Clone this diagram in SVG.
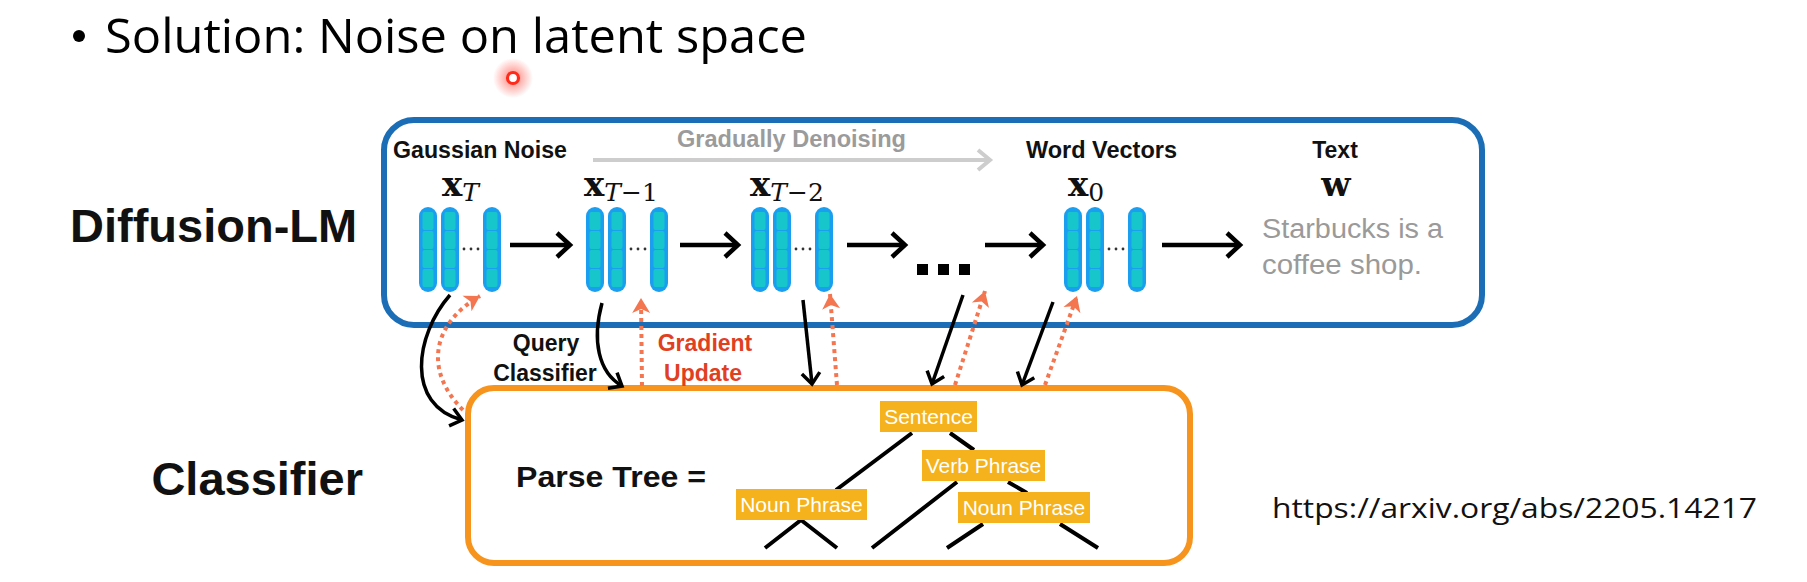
<svg xmlns="http://www.w3.org/2000/svg" xmlns:xlink="http://www.w3.org/1999/xlink" width="1807" height="582" viewBox="0 0 1807 582">
<defs>
<style>
.lbl{font-family:"Liberation Sans",Arial,sans-serif;font-weight:bold;font-size:23px;fill:#111}
.big{font-family:"Liberation Sans",Arial,sans-serif;font-weight:bold;font-size:47px;fill:#111}
.math{font-family:"DejaVu Serif",serif;font-weight:bold;font-size:34px;fill:#111}
.sub{font-family:"DejaVu Serif",serif;font-weight:normal;font-style:italic;font-size:25px}
.subn{font-family:"DejaVu Serif",serif;font-weight:normal;font-style:normal;font-size:25px}
.gray{font-family:"Liberation Sans",Arial,sans-serif;font-size:27px;fill:#9a9a9a}
.tag{fill:#f5b21c}
.tagt{font-family:"Liberation Sans",Arial,sans-serif;font-size:21px;fill:#fff;text-anchor:middle}
.tree{stroke:#000;stroke-width:4;fill:none}
.conn{stroke:#000;stroke-width:3.5;fill:none}
.dot{stroke:#f47650;stroke-width:4;fill:none;stroke-dasharray:4 4}
.flow{stroke:#000;stroke-width:4.5;fill:none}
</style>
<marker id="hBig" markerUnits="userSpaceOnUse" viewBox="-20 -20 40 40" markerWidth="40" markerHeight="40" refX="0" refY="0" orient="auto" overflow="visible">
<path d="M-13,-12 L0,0 L-13,12" fill="none" stroke="#000" stroke-width="4.5"/>
</marker>
<marker id="hGray" markerUnits="userSpaceOnUse" viewBox="-20 -20 40 40" markerWidth="40" markerHeight="40" refX="0" refY="0" orient="auto" overflow="visible">
<path d="M-12,-10 L0,0 L-12,10" fill="none" stroke="#cdcdcd" stroke-width="4"/>
</marker>
<marker id="hBlk" markerUnits="userSpaceOnUse" viewBox="-20 -20 40 40" markerWidth="40" markerHeight="40" refX="0" refY="0" orient="auto" overflow="visible">
<path d="M-11,-9 L0,0 L-11,9" fill="none" stroke="#000" stroke-width="3.5"/>
</marker>
<marker id="hOr" markerUnits="userSpaceOnUse" viewBox="-20 -20 40 40" markerWidth="40" markerHeight="40" refX="0" refY="0" orient="auto" overflow="visible">
<path d="M-15,-9 L0,0 L-15,9 L-11,0 Z" fill="#f47650"/>
</marker>
<radialGradient id="glow">
<stop offset="0" stop-color="#ff2a1a" stop-opacity="0.6"/>
<stop offset="1" stop-color="#ff2a1a" stop-opacity="0"/>
</radialGradient>
<g id="col">
<rect x="0" y="0" width="18" height="85" rx="9" fill="#1a9ff0"/>
<rect x="3.5" y="5" width="11" height="18" rx="2" fill="#17c6cb"/>
<rect x="3.5" y="24" width="11" height="18" rx="2" fill="#17c6cb"/>
<rect x="3.5" y="43" width="11" height="18" rx="2" fill="#17c6cb"/>
<rect x="3.5" y="62" width="11" height="18" rx="2" fill="#17c6cb"/>
</g>
<g id="stack">
<use xlink:href="#col" x="0"/>
<use xlink:href="#col" x="22"/>
<use xlink:href="#col" x="64"/>
<circle cx="45" cy="42" r="1.4" fill="#333"/>
<circle cx="52" cy="42" r="1.4" fill="#333"/>
<circle cx="59" cy="42" r="1.4" fill="#333"/>
</g>
</defs>
<rect width="1807" height="582" fill="#fff"/>

<g id="title">
<circle cx="79" cy="36" r="6" fill="#000"/>
<text x="105" y="53" font-family="'Open Sans','Noto Sans',sans-serif" font-size="48" fill="#000" textLength="702" lengthAdjust="spacingAndGlyphs">Solution: Noise on latent space</text>
</g>
<g id="pointer">
<circle cx="513" cy="78" r="20" fill="url(#glow)"/>
<circle cx="513" cy="78" r="5.5" fill="#fff" stroke="#ff2a1a" stroke-width="3.2"/>
</g>

<text class="big" x="70" y="242">Diffusion-LM</text>
<text class="big" x="363" y="495" text-anchor="end">Classifier</text>

<g id="diffusion-lm">
<rect x="384" y="120" width="1098" height="205" rx="30" fill="none" stroke="#1b6eb6" stroke-width="6"/>
<text class="lbl" x="393" y="158" textLength="174" lengthAdjust="spacingAndGlyphs">Gaussian Noise</text>
<text class="lbl" x="677" y="147" style="fill:#9b9b9b" textLength="229" lengthAdjust="spacingAndGlyphs">Gradually Denoising</text>
<text class="lbl" x="1026" y="158" textLength="151" lengthAdjust="spacingAndGlyphs">Word Vectors</text>
<text class="lbl" x="1335" y="158" text-anchor="middle">Text</text>
<path d="M593,160 L990,160" stroke="#cdcdcd" stroke-width="4" fill="none" marker-end="url(#hGray)"/>
</g>

<g id="xT">
<text class="math" x="442" y="196">x<tspan class="sub" dy="5">T</tspan></text>
<use xlink:href="#stack" x="419" y="207"/>
</g>
<g id="xT1">
<text class="math" x="584" y="196">x<tspan class="sub" dy="5">T</tspan><tspan class="subn">−1</tspan></text>
<use xlink:href="#stack" x="586" y="207"/>
</g>
<g id="xT2">
<text class="math" x="750" y="196">x<tspan class="sub" dy="5">T</tspan><tspan class="subn">−2</tspan></text>
<use xlink:href="#stack" x="751" y="207"/>
</g>
<g id="ellipsis">
<rect x="917" y="264" width="11" height="11" fill="#000"/>
<rect x="938" y="264" width="11" height="11" fill="#000"/>
<rect x="959" y="264" width="11" height="11" fill="#000"/>
</g>
<g id="x0">
<text class="math" x="1068" y="196">x<tspan class="subn" dy="5">0</tspan></text>
<use xlink:href="#stack" x="1064" y="207"/>
</g>
<g id="w">
<text class="math" x="1336" y="196" text-anchor="middle">w</text>
<text class="gray" x="1262" y="238" textLength="181" lengthAdjust="spacingAndGlyphs">Starbucks is a</text>
<text class="gray" x="1262" y="274" textLength="160" lengthAdjust="spacingAndGlyphs">coffee shop.</text>
</g>

<g id="classifier">
<rect x="468" y="388" width="722" height="175" rx="26" fill="none" stroke="#f7941d" stroke-width="6"/>
<text x="516" y="487" font-family="'Liberation Sans',Arial,sans-serif" font-weight="bold" font-size="30" fill="#111" textLength="190" lengthAdjust="spacingAndGlyphs">Parse Tree =</text>
<path class="tree" d="M912,433 L836,490 M950,433 L974,450 M957,482 L872,548 M1008,482 L1027,493 M983,524 L947,548 M1060,524 L1098,548 M801,520 L765,548 M801,520 L837,548"/>
<rect class="tag" x="880" y="401" width="97" height="31"/>
<text class="tagt" x="928.5" y="424">Sentence</text>
<rect class="tag" x="922" y="450" width="123" height="31"/>
<text class="tagt" x="983.5" y="473">Verb Phrase</text>
<rect class="tag" x="736" y="489" width="131" height="31"/>
<text class="tagt" x="801.5" y="512">Noun Phrase</text>
<rect class="tag" x="958" y="492" width="132" height="31"/>
<text class="tagt" x="1024" y="515">Noun Phrase</text>
</g>

<g id="connectors">
<path class="flow" d="M510,245 L570,245" marker-end="url(#hBig)"/>
<path class="flow" d="M680,245 L738,245" marker-end="url(#hBig)"/>
<path class="flow" d="M847,245 L905,245" marker-end="url(#hBig)"/>
<path class="flow" d="M985,245 L1043,245" marker-end="url(#hBig)"/>
<path class="flow" d="M1162,245 L1240,245" marker-end="url(#hBig)"/>

<path class="conn" d="M450,295 C415,335 405,405 462,420" marker-end="url(#hBlk)"/>
<path class="dot" d="M463,410 C425,372 430,325 480,296" marker-end="url(#hOr)"/>
<path class="conn" d="M602,303 C592,340 598,372 622,386" marker-end="url(#hBlk)"/>
<path class="dot" d="M642,386 L641,298" marker-end="url(#hOr)"/>
<path class="conn" d="M803,300 L812,384" marker-end="url(#hBlk)"/>
<path class="dot" d="M837,385 L830,294" marker-end="url(#hOr)"/>
<path class="conn" d="M963,295 L932,384" marker-end="url(#hBlk)"/>
<path class="dot" d="M955,385 L985,291" marker-end="url(#hOr)"/>
<path class="conn" d="M1053,302 L1022,385" marker-end="url(#hBlk)"/>
<path class="dot" d="M1045,385 L1077,296" marker-end="url(#hOr)"/>

<text class="lbl" x="546" y="351" text-anchor="middle">Query</text>
<text class="lbl" x="545" y="381" text-anchor="middle">Classifier</text>
<text class="lbl" x="705" y="351" text-anchor="middle" style="fill:#e0401f">Gradient</text>
<text class="lbl" x="703" y="381" text-anchor="middle" style="fill:#e0401f">Update</text>
</g>

<text x="1272" y="518" font-family="'Open Sans','Noto Sans',sans-serif" font-size="28" fill="#111" textLength="485" lengthAdjust="spacingAndGlyphs">https://arxiv.org/abs/2205.14217</text>
</svg>
